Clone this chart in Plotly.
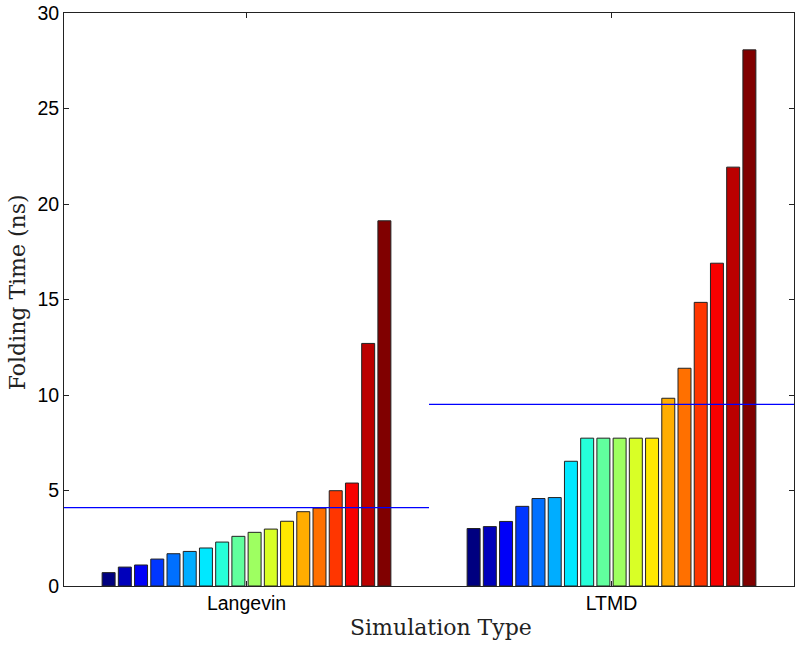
import numpy as np
import plotly.graph_objects as go

# folding times (ns) per run, sorted, for each simulation type
categories = ["Langevin", "LTMD"]
langevin = [0.70, 0.99, 1.10, 1.41, 1.69, 1.81, 1.99, 2.30, 2.60, 2.81,
            2.98, 3.39, 3.89, 4.08, 4.99, 5.39, 12.70, 19.12]
ltmd = [3.01, 3.11, 3.38, 4.17, 4.58, 4.63, 6.53, 7.74, 7.74, 7.74,
        7.74, 7.74, 9.83, 11.40, 14.85, 16.90, 21.93, 28.07]
y_ticks = [0, 5, 10, 15, 20, 25, 30]

# jet colormap, one colour per bar series
jet = ["#000080", "#0000bb", "#0000f8", "#0036ff", "#0070ff", "#00adff",
       "#00e8ff", "#26ffd9", "#61ff9e", "#9eff61", "#d9ff26", "#ffe800",
       "#ffad00", "#ff7000", "#ff3600", "#f80000", "#bb0000", "#800000"]

tick_font = dict(family="Liberation Sans, Arial", size=19.5, color="black")
title_font = dict(family="DejaVu Serif", size=22, color="#222222")

fig = go.Figure()

x = [1, 2]
for k in range(len(langevin)):
    fig.add_trace(go.Bar(
        x=x, y=[langevin[k], ltmd[k]],
        marker=dict(color=jet[k], line=dict(color="#222222", width=1)),
        showlegend=False,
    ))

# mean line for each group
for i, vals in enumerate([langevin, ltmd]):
    m = float(np.mean(vals))
    fig.add_trace(go.Scatter(
        x=[x[i] - 0.5, x[i] + 0.5], y=[m, m], mode="lines",
        line=dict(color="#0000ff", width=1.2), showlegend=False,
    ))

fig.update_layout(
    width=800, height=645,
    margin=dict(l=64, r=6, t=13, b=59),
    paper_bgcolor="white", plot_bgcolor="white",
    barmode="group", bargap=0.2, bargroupgap=0.2,
    annotations=[
        dict(text="Simulation Type", xref="paper", yref="paper",
             x=0.516, y=-0.072, xanchor="center", yanchor="middle",
             showarrow=False, font=title_font),
        dict(text="Folding Time (ns)", xref="paper", yref="paper",
             x=-0.064, y=0.513, xanchor="center", yanchor="middle",
             textangle=-90, showarrow=False, font=title_font),
    ],
)

fig.update_xaxes(
    range=[0.5, 2.5], tickvals=x, ticktext=categories,
    tickfont=tick_font, ticks="inside", ticklen=5, tickcolor="#222222",
    showline=True, linecolor="#222222", linewidth=1, mirror="ticks",
    showgrid=False, zeroline=False, automargin=False,
)
fig.update_yaxes(
    range=[0, 30], tickvals=y_ticks,
    tickfont=tick_font, ticks="inside", ticklen=5, tickcolor="#222222",
    showline=True, linecolor="#222222", linewidth=1, mirror="ticks",
    showgrid=False, zeroline=False, automargin=False,
)

# drop the default 8px page margin so the figure fills the window
fig.write_html("out.html", config={"displayModeBar": False},
               post_script="document.body.style.margin='0';")
